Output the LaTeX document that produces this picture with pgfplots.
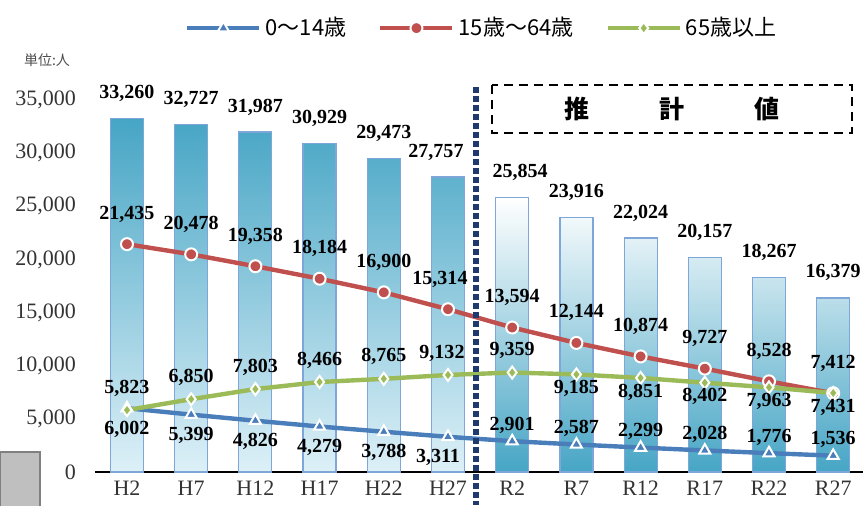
\documentclass[border=0pt]{standalone}
\usepackage{fontspec}
\setmainfont{Liberation Serif}
\newfontfamily\cjk{Noto Sans CJK JP}
\usepackage{pgfplots}
\pgfplotsset{compat=1.18}
\definecolor{cblue}{HTML}{4A7EBB}
\definecolor{cred}{HTML}{C0504D}
\definecolor{cgreen}{HTML}{9BBB59}
\definecolor{barteal}{HTML}{46A5C5}
\definecolor{barlight}{HTML}{DDF0F7}
\definecolor{baredge}{HTML}{7FA6D8}
\definecolor{navy}{HTML}{1F3A6E}
\begin{document}
\begin{tikzpicture}
\begin{axis}[
  scale only axis, width=384pt, height=191.3pt,
  xmin=-0.5, xmax=11.464, ymin=0, ymax=36000,
  axis x line*=bottom, axis y line*=left,
  axis line style={-},
  y axis line style={draw=none},
  x axis line style={line width=1.2pt, black},
  xtick={0,...,11},
  xticklabels={H2,H7,H12,H17,H22,H27,R2,R7,R12,R17,R22,R27},
  ytick={0,5000,...,35000},
  scaled y ticks=false,
  major tick length=0pt,
  /pgf/number format/1000 sep={,},
  /pgf/number format/assume math mode=true,
  ticklabel style={font=\fontsize{11}{13}\selectfont, text=black!80},
  yticklabel style={xshift=-6pt},
  xticklabel style={yshift=-1pt},
  clip=false,
  every node near coord/.append style={font=\bfseries\fontsize{10}{12}\selectfont, text=black, anchor=center},
  legend columns=3,
  legend style={at={(0.505,1.16)}, anchor=center, draw=none, fill=none,
    font=\cjk\fontsize{11}{13}\selectfont,
    /tikz/every even column/.append style={column sep=14pt}},
  legend image code/.code={\draw[#1, mark repeat=2, mark phase=2] plot coordinates {(0pt,0pt) (18pt,0pt) (36pt,0pt)};},
  lbl/.style={draw=none, mark=none, forget plot, nodes near coords},
]
% bars: actual
\addplot[ybar, bar width=16.5pt, bar shift=0pt, draw=baredge, line width=0.6pt,
  top color=barteal, bottom color=barlight, forget plot]
  coordinates {(0,33260) (1,32727) (2,31987) (3,30929) (4,29473) (5,27757)};
% bars: projection
\addplot[ybar, bar width=16.5pt, bar shift=0pt, draw=baredge, line width=0.6pt,
  top color=white, bottom color=barteal, forget plot]
  coordinates {(6,25854) (7,23916) (8,22024) (9,20157) (10,18267) (11,16379)};
% bar labels
\addplot[lbl, every node near coord/.append style={yshift=12.5pt}]
  coordinates {(0,33260) (1,32727) (2,31987) (3,30929) (4,29473) (7,23916) (8,22024) (9,20157) (10,18267) (11,16379)};
\addplot[lbl, every node near coord/.append style={yshift=12.5pt, xshift=-6pt}]
  coordinates {(5,27757)};
\addplot[lbl, every node near coord/.append style={yshift=12.5pt, xshift=4pt}]
  coordinates {(6,25854)};
% 0-14
\addplot[cblue, line width=2.2pt, mark=triangle*, mark size=3.2pt,
  mark options={fill=cblue, draw=white, line width=1pt}]
  coordinates {(0,6002) (1,5399) (2,4826) (3,4279) (4,3788) (5,3311) (6,2901) (7,2587) (8,2299) (9,2028) (10,1776) (11,1536)};
\addlegendentry{0～14歳}
% 15-64
\addplot[cred, line width=2.2pt, mark=*, mark size=3pt,
  mark options={fill=cred, draw=white, line width=1pt}]
  coordinates {(0,21435) (1,20478) (2,19358) (3,18184) (4,16900) (5,15314) (6,13594) (7,12144) (8,10874) (9,9727) (10,8528) (11,7412)};
\addlegendentry{15歳～64歳}
% 65+
\addplot[cgreen, line width=2.2pt, mark=diamond*, mark size=3pt,
  mark options={fill=cgreen, draw=white, line width=1pt}]
  coordinates {(0,5823) (1,6850) (2,7803) (3,8466) (4,8765) (5,9132) (6,9359) (7,9185) (8,8851) (9,8402) (10,7963) (11,7431)};
\addlegendentry{65歳以上}
% labels for 15-64
\addplot[lbl, every node near coord/.append style={yshift=15pt}]
  coordinates {(0,21435) (1,20478) (2,19358) (3,18184) (4,16900) (6,13594) (7,12144) (8,10874) (9,9727) (10,8528) (11,7412)};
\addplot[lbl, every node near coord/.append style={yshift=15pt, xshift=-4pt}]
  coordinates {(5,15314)};
% labels for 65+
\addplot[lbl, every node near coord/.append style={yshift=11pt}]
  coordinates {(0,5823) (1,6850) (2,7803) (3,8466) (4,8765) (6,9359)};
\addplot[lbl, every node near coord/.append style={yshift=11pt, xshift=-3pt}]
  coordinates {(5,9132)};
\addplot[lbl, every node near coord/.append style={yshift=-7pt}]
  coordinates {(7,9185) (8,8851) (9,8402) (10,7963) (11,7431)};
% labels for 0-14
\addplot[lbl, every node near coord/.append style={yshift=-10.5pt}]
  coordinates {(0,6002) (1,5399) (2,4826) (3,4279) (4,3788)};
\addplot[lbl, every node near coord/.append style={yshift=-10.5pt, xshift=-5pt}]
  coordinates {(5,3311)};
\addplot[lbl, every node near coord/.append style={yshift=8pt}]
  coordinates {(6,2901) (7,2587) (8,2299) (9,2028) (10,1776) (11,1536)};
% decorations
\draw[navy, line width=3pt, dash pattern=on 3pt off 1.5pt] (axis cs:5.44,36222) -- (axis cs:5.44,-3105);
\draw[black, line width=1.4pt, dash pattern=on 4.5pt off 3pt] (axis cs:5.685,36410) rectangle (axis cs:11.293,31894);
\node[font=\cjk\bfseries\fontsize{12.5}{14}\selectfont] at (axis cs:7.009,34152) {推};
\node[font=\cjk\bfseries\fontsize{12.5}{14}\selectfont] at (axis cs:8.489,34152) {計};
\node[font=\cjk\bfseries\fontsize{12.5}{14}\selectfont] at (axis cs:9.969,34152) {値};
\node[font=\cjk\fontsize{7}{8}\selectfont, text=black!70] at (axis cs:-1.246,38762) {単位:人};
\draw[fill=black!25, draw=black!50, line width=0.8pt] (axis cs:-1.978,1882) rectangle (axis cs:-1.355,-3300);
\coordinate (bl) at (axis cs:-1.978,-3105);
\coordinate (tr) at (axis cs:11.464,44407);
\end{axis}
\pgfresetboundingbox
\path[use as bounding box] (bl) rectangle (tr);
\end{tikzpicture}
\end{document}
